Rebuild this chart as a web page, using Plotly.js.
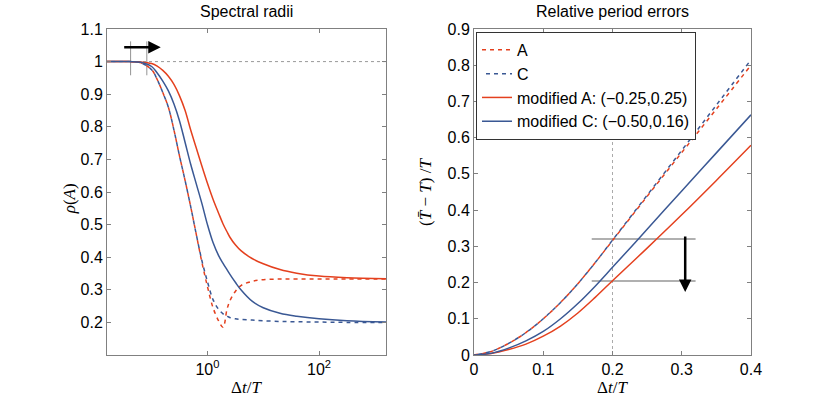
<!DOCTYPE html>
<html>
<head>
<meta charset="utf-8">
<script src="https://cdn.plot.ly/plotly-3.0.1.min.js"></script>
<style>
  html, body { margin: 0; padding: 0; background: #fff; }
  #chart { width: 830px; height: 399px; }
</style>
</head>
<body>
<div id="chart"></div>
<script>
const RED = '#e4401e';
const BLUE = '#3a5894';

// Spectral radii: log10 of dt/T (shared grid for the left panel)
const radiiLogDt = [-1.8, -1.4, -1.2, -1.0, -0.9, -0.8, -0.7, -0.6, -0.5, -0.4, -0.3, -0.2, -0.1,
  0.0, 0.1, 0.2, 0.28, 0.35, 0.4, 0.5, 0.6, 0.8, 1.0, 1.3, 1.6, 2.0, 2.5, 3.2];
const radiiA = [1.0, 1.0, 0.997, 0.975, 0.945, 0.905, 0.86, 0.79, 0.71, 0.635, 0.555, 0.47, 0.385,
  0.31, 0.245, 0.205, 0.185, 0.24, 0.265, 0.295, 0.313, 0.326, 0.331, 0.333, 0.3333, 0.3333, 0.3333, 0.3333];
const radiiC = [1.0, 1.0, 0.997, 0.975, 0.945, 0.905, 0.86, 0.79, 0.71, 0.635, 0.555, 0.47, 0.39,
  0.325, 0.27, 0.24, 0.226, 0.219, 0.215, 0.211, 0.209, 0.207, 0.205, 0.203, 0.202, 0.201, 0.2, 0.2];
const radiiModA = [1.0, 1.0, 0.999, 0.994, 0.986, 0.973, 0.955, 0.93, 0.895, 0.85, 0.79, 0.735, 0.68,
  0.627, 0.578, 0.535, 0.502, 0.478, 0.462, 0.438, 0.42, 0.396, 0.38, 0.362, 0.351, 0.342, 0.337, 0.334];
const radiiModC = [1.0, 1.0, 0.998, 0.985, 0.965, 0.94, 0.91, 0.87, 0.818, 0.752, 0.685, 0.625, 0.565,
  0.5, 0.445, 0.405, 0.381, 0.362, 0.348, 0.323, 0.3, 0.265, 0.245, 0.228, 0.219, 0.211, 0.205, 0.201];

// Relative period errors
const periodDt = [0, 0.025, 0.05, 0.075, 0.1, 0.125, 0.15, 0.175, 0.2, 0.25, 0.3, 0.35, 0.4];
const periodA = [0, 0.01, 0.032, 0.062, 0.1, 0.145, 0.197, 0.255, 0.316, 0.438, 0.559, 0.679, 0.80];
const periodC = [0, 0.01, 0.032, 0.062, 0.1, 0.145, 0.197, 0.255, 0.317, 0.441, 0.565, 0.69, 0.815];
const periodModA = [0, 0.004, 0.015, 0.03, 0.052, 0.08, 0.116, 0.159, 0.205, 0.295, 0.387, 0.482, 0.579];
const periodModC = [0, 0.005, 0.019, 0.039, 0.065, 0.1, 0.142, 0.19, 0.242, 0.347, 0.453, 0.558, 0.663];

// guide marks
const guideTickDt = [0.042, 0.082];
const guideTickSpan = [0.958, 1.062];
const arrowLeftDt = [0.0303, 0.1456];
const arrowLeftY = 1.044;
const refDt = 0.2;
const refSpan = [0, 0.59];
const levelY = [0.32, 0.204];
const levelDt = [0.17, 0.32];
const arrowRightDt = 0.305;
const arrowRightY = [0.331, 0.174];

const legendNames = ['A', 'C', 'modified A: (\u22120.25,0.25)', 'modified C: (\u22120.50,0.16)'];

function renderChart() {
  const container = document.getElementById('chart');
  const dt = radiiLogDt.map((e) => Math.pow(10, e));
  const dashA = '4px,4px';
  const dashC = '0px,4px,4px,0px';
  const curve = (color, dash) => ({ color, width: 1.5, dash, shape: 'spline', smoothing: 1 });

  const guideLine = { color: 'rgba(120,120,120,0.8)', width: 1 };
  const traces = [
    // left panel guides
    { x: [dt[0], dt[dt.length - 1]], y: [1, 1], xaxis: 'x', yaxis: 'y', mode: 'lines',
      line: { color: '#999', width: 1, dash: 'dot' }, showlegend: false, hoverinfo: 'skip' },
    ...guideTickDt.map((v) => ({ x: [v, v], y: guideTickSpan, xaxis: 'x', yaxis: 'y', mode: 'lines',
      line: guideLine, showlegend: false, hoverinfo: 'skip' })),
    // right panel guides
    { x: [refDt, refDt], y: refSpan, xaxis: 'x2', yaxis: 'y2', mode: 'lines',
      line: { color: '#aaa', width: 1, dash: 'dot' }, showlegend: false, hoverinfo: 'skip' },
    ...levelY.map((v) => ({ x: levelDt, y: [v, v], xaxis: 'x2', yaxis: 'y2', mode: 'lines',
      line: { color: 'rgba(150,150,150,0.75)', width: 2 }, showlegend: false, hoverinfo: 'skip' })),
    // spectral radii
    { x: dt, y: radiiA, xaxis: 'x', yaxis: 'y', mode: 'lines', line: curve(RED, dashA), showlegend: false },
    { x: dt, y: radiiC, xaxis: 'x', yaxis: 'y', mode: 'lines', line: curve(BLUE, dashC), showlegend: false },
    { x: dt, y: radiiModA, xaxis: 'x', yaxis: 'y', mode: 'lines', line: curve(RED, 'solid'), showlegend: false },
    { x: dt, y: radiiModC, xaxis: 'x', yaxis: 'y', mode: 'lines', line: curve(BLUE, 'solid'), showlegend: false },
    // period errors
    { x: periodDt, y: periodA, xaxis: 'x2', yaxis: 'y2', mode: 'lines', name: legendNames[0], line: curve(RED, dashA) },
    { x: periodDt, y: periodC, xaxis: 'x2', yaxis: 'y2', mode: 'lines', name: legendNames[1], line: curve(BLUE, dashC) },
    { x: periodDt, y: periodModA, xaxis: 'x2', yaxis: 'y2', mode: 'lines', name: legendNames[2], line: curve(RED, 'solid') },
    { x: periodDt, y: periodModC, xaxis: 'x2', yaxis: 'y2', mode: 'lines', name: legendNames[3], line: curve(BLUE, 'solid') },
  ];

  const tickFont = { family: 'Liberation Sans, Arial, sans-serif', size: 16, color: '#000' };
  const mathFont = { family: 'Liberation Serif, Times New Roman, serif', size: 17, color: '#000' };
  const titleFont = { family: 'Liberation Sans, Arial, sans-serif', size: 16, color: '#000' };
  const axisCommon = {
    showline: true, mirror: 'ticks', linecolor: '#808080', linewidth: 1,
    ticks: 'inside', ticklen: 4, tickcolor: '#808080', showgrid: false, zeroline: false,
    tickfont: tickFont, fixedrange: true,
  };

  const leftTicks = [0.2, 0.3, 0.4, 0.5, 0.6, 0.7, 0.8, 0.9, 1.0, 1.1];
  const rightTicks = [0, 0.1, 0.2, 0.3, 0.4, 0.5, 0.6, 0.7, 0.8, 0.9];

  const layout = {
    width: 830,
    height: 399,
    margin: { l: 0, r: 0, t: 29, b: 44 },
    paper_bgcolor: '#fff',
    plot_bgcolor: '#fff',
    xaxis: { ...axisCommon, type: 'log', range: [-1.8, 3.2], domain: [0.1289, 0.4651], anchor: 'y',
      tickvals: [1, 100], ticktext: ['10<sup>0</sup>', '10<sup>2</sup>'] },
    yaxis: { ...axisCommon, range: [0.1, 1.1], domain: [0, 1], anchor: 'x',
      tickvals: leftTicks, ticktext: leftTicks.map((v) => String(v)) },
    xaxis2: { ...axisCommon, range: [0, 0.4], domain: [0.5711, 0.9048], anchor: 'y2',
      tickvals: [0, 0.1, 0.2, 0.3, 0.4], ticktext: ['0', '0.1', '0.2', '0.3', '0.4'] },
    yaxis2: { ...axisCommon, range: [0, 0.9], domain: [0, 1], anchor: 'x2',
      tickvals: rightTicks, ticktext: rightTicks.map((v) => String(v)) },
    showlegend: true,
    legend: {
      x: 0.5735, y: 0.991, xanchor: 'left', yanchor: 'top',
      bgcolor: '#fff', bordercolor: '#333', borderwidth: 1,
      font: { family: 'Liberation Sans, Arial, sans-serif', size: 16, color: '#000' },
      itemwidth: 30, tracegroupgap: 0,
    },
    annotations: [
      { text: 'Spectral radii', xref: 'paper', yref: 'paper', x: 0.2965, y: 1.055, showarrow: false,
        font: titleFont, xanchor: 'center', yanchor: 'middle' },
      { text: 'Relative period errors', xref: 'paper', yref: 'paper', x: 0.738, y: 1.055, showarrow: false,
        font: titleFont, xanchor: 'center', yanchor: 'middle' },
      { text: '\u0394<i>t</i>/<i>T</i>', xref: 'paper', yref: 'paper', x: 0.2965, y: -0.1, showarrow: false,
        font: mathFont, xanchor: 'center', yanchor: 'middle' },
      { text: '\u0394<i>t</i>/<i>T</i>', xref: 'paper', yref: 'paper', x: 0.738, y: -0.1, showarrow: false,
        font: mathFont, xanchor: 'center', yanchor: 'middle' },
      { text: '<i>\u03c1</i>(<i>A</i>)', xref: 'paper', yref: 'paper', x: 0.084, y: 0.48, showarrow: false,
        font: mathFont, textangle: -90, xanchor: 'center', yanchor: 'middle' },
      { text: '(<i>T\u0304</i> \u2212 <i>T</i>) /<i>T</i>', xref: 'paper', yref: 'paper', x: 0.512, y: 0.5, showarrow: false,
        font: mathFont, textangle: -90, xanchor: 'center', yanchor: 'middle' },
      { x: Math.log10(arrowLeftDt[1]), y: arrowLeftY, ax: Math.log10(arrowLeftDt[0]), ay: arrowLeftY,
        xref: 'x', yref: 'y', axref: 'x', ayref: 'y', text: '', showarrow: true,
        arrowhead: 2, arrowsize: 1, arrowwidth: 2.5, arrowcolor: '#000' },
      { x: arrowRightDt, y: arrowRightY[1], ax: arrowRightDt, ay: arrowRightY[0],
        xref: 'x2', yref: 'y2', axref: 'x2', ayref: 'y2', text: '', showarrow: true,
        arrowhead: 2, arrowsize: 1, arrowwidth: 2.5, arrowcolor: '#000' },
    ],
  };

  Plotly.newPlot(container, traces, layout, { displayModeBar: false, staticPlot: true });
}

renderChart();
</script>
</body>
</html>
